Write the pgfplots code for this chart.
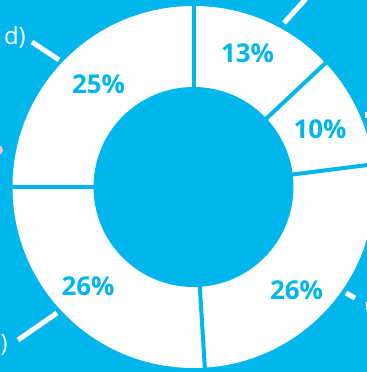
\documentclass[border=0pt]{standalone}
\usepackage{pgfplots}
\pgfplotsset{compat=1.18}
\usepackage{pgfplotstable}
\usepackage{fontspec}
\setmainfont{Open Sans}
\definecolor{cyanbg}{RGB}{0,182,237}
\definecolor{pinkdot}{RGB}{238,196,208}

% slice share (%) and cumulative share at the start of each slice
\pgfplotstableread{
share cum
13    0
10    13
26    23
26    49
25    75
}\sepdata

% slice labels (pixel-like coordinates, y up)
\pgfplotstableread{
x     y    label
247.5 309  13\%
320   233  10\%
296.5 72   26\%
88    76   26\%
98.5  278  25\%
}\labeldata

\begin{document}
\begin{tikzpicture}
\path[use as bounding box, clip] (0,0) rectangle (367bp,372bp);
\begin{axis}[
  at={(0,0)}, anchor=south west,
  scale only axis, width=367bp, height=372bp,
  xmin=0, xmax=367, ymin=0, ymax=372,
  hide axis, clip=false,
]
\fill[cyanbg] (axis cs:-20,-20) rectangle (axis cs:400,400);
% ring
\fill[white] (axis cs:193.5,185) circle[radius=181];
\fill[cyanbg] (axis cs:193.5,185) circle[radius=100];
% separators between slices
\addplot[cyanbg, line width=4bp, mark=none,
  quiver={u={95*cos(90-3.6*\thisrow{cum})}, v={95*sin(90-3.6*\thisrow{cum})}}]
  table[x expr={193.5+92*cos(90-3.6*\thisrow{cum})}, y expr={185+92*sin(90-3.6*\thisrow{cum})}] {\sepdata};
% percentage labels
\addplot[draw=none, mark=none, nodes near coords, point meta=explicit symbolic,
  every node near coord/.append style={anchor=base, font=\fontsize{26}{30}\selectfont\bfseries, text=cyanbg, inner sep=0pt}]
  table[x=x, y=y, meta=label] {\labeldata};
% leader lines of the outer labels
\draw[white, line width=5bp] (axis cs:32,330) -- (axis cs:59,312);
\draw[white, line width=5bp] (axis cs:284,349) -- (axis cs:312,380);
\draw[white, line width=5bp] (axis cs:18,32) -- (axis cs:57,59);
\draw[white, line width=5bp] (axis cs:346,79) -- (axis cs:355,74);
\fill[white] (axis cs:365.5,62) rectangle (axis cs:368,70);
\fill[white] (axis cs:365,254) rectangle (axis cs:368,260);
\fill[pinkdot] (axis cs:-2,222) circle[radius=5];
\node[anchor=base east, text=white, inner sep=0pt, font=\fontsize{24}{28}\selectfont] at (axis cs:26,327) {d)};
\node[anchor=base east, text=white, inner sep=0pt, font=\fontsize{24}{28}\selectfont] at (axis cs:8,20) {)};
\end{axis}
\end{tikzpicture}
\end{document}
